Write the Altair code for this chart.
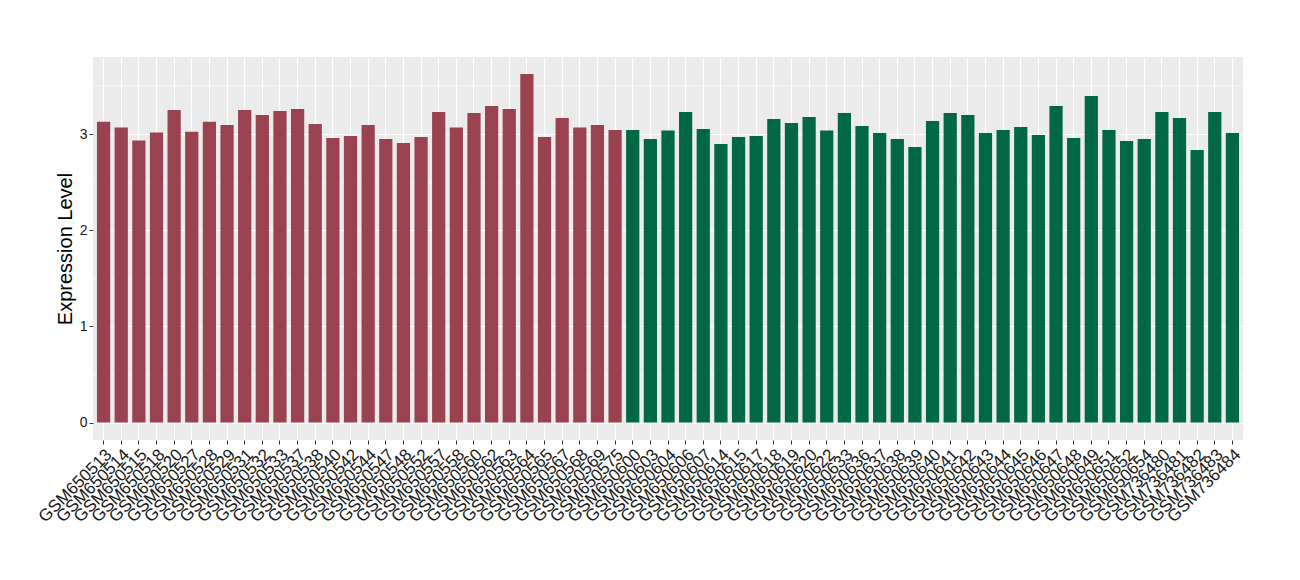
import altair as alt
import pandas as pd

samples = [
    "GSM650513", "GSM650514", "GSM650515", "GSM650518", "GSM650520", "GSM650527",
    "GSM650528", "GSM650529", "GSM650531", "GSM650532", "GSM650533", "GSM650537",
    "GSM650538", "GSM650540", "GSM650542", "GSM650544", "GSM650547", "GSM650548",
    "GSM650552", "GSM650557", "GSM650558", "GSM650560", "GSM650562", "GSM650563",
    "GSM650564", "GSM650565", "GSM650567", "GSM650568", "GSM650569", "GSM650575",
    "GSM650600", "GSM650603", "GSM650604", "GSM650606", "GSM650607", "GSM650614",
    "GSM650615", "GSM650617", "GSM650618", "GSM650619", "GSM650620", "GSM650622",
    "GSM650633", "GSM650636", "GSM650637", "GSM650638", "GSM650639", "GSM650640",
    "GSM650641", "GSM650642", "GSM650643", "GSM650644", "GSM650645", "GSM650646",
    "GSM650647", "GSM650648", "GSM650649", "GSM650651", "GSM650652", "GSM650654",
    "GSM736480", "GSM736481", "GSM736482", "GSM736483", "GSM736484",
]
values = [
    3.129, 3.067, 2.932, 3.015, 3.250, 3.025, 3.129, 3.094, 3.250, 3.198,
    3.240, 3.261, 3.105, 2.960, 2.980, 3.094, 2.949, 2.908, 2.970, 3.229,
    3.067, 3.219, 3.292, 3.261, 3.624, 2.970, 3.167, 3.067, 3.094, 3.043,
    3.043, 2.949, 3.036, 3.229, 3.053, 2.897, 2.970, 2.980, 3.157, 3.115,
    3.178, 3.036, 3.219, 3.084, 3.011, 2.949, 2.866, 3.136, 3.219, 3.198,
    3.011, 3.043, 3.074, 2.990, 3.292, 2.960, 3.396, 3.043, 2.928, 2.949,
    3.229, 3.167, 2.835, 3.229, 3.011,
]
groups = ["A"] * 30 + ["B"] * 35
group_colors = ["#9A4250", "#006845"]
minor_grid = [0.5, 1.5, 2.5, 3.5]

df = pd.DataFrame({"sample": samples, "value": values, "group": groups})
minor_df = pd.DataFrame({"v": minor_grid})

FONT = "Liberation Sans"
ydomain = [-0.181, 3.801]

yscale = alt.Scale(domain=ydomain, nice=False, zero=False)

minor = alt.Chart(minor_df).mark_rule(color="white", strokeWidth=0.6).encode(
    y=alt.Y("v:Q", scale=yscale)
)

bars = alt.Chart(df).mark_bar().encode(
    x=alt.X(
        "sample:N",
        sort=samples,
        scale=alt.Scale(paddingInner=0.25, paddingOuter=0.225),
        axis=alt.Axis(
            title=None,
            labelAngle=315,
            labelAlign="right",
            labelBaseline="top",
            labelFontSize=17,
            labelFont=FONT,
            labelColor="#1a1a1a",
            labelPadding=2,
            tickColor="#333333",
            tickSize=4,
            bandPosition=0.5,
            grid=True,
            gridColor="white",
            gridWidth=1.2,
            domain=False,
            labelOverlap=False,
        ),
    ),
    y=alt.Y(
        "value:Q",
        scale=yscale,
        axis=alt.Axis(
            title="Expression Level",
            values=[0, 1, 2, 3],
            format="d",
            titleFont=FONT,
            titleFontSize=20,
            titleFontWeight="normal",
            titleColor="black",
            titlePadding=4,
            labelFont=FONT,
            labelFontSize=14,
            labelColor="#1a1a1a",
            labelPadding=2,
            tickColor="#333333",
            tickSize=4,
            grid=True,
            gridColor="white",
            gridWidth=1.2,
            domain=False,
        ),
    ),
    color=alt.Color(
        "group:N",
        scale=alt.Scale(domain=["A", "B"], range=group_colors),
        legend=None,
    ),
)

chart = (
    alt.layer(minor, bars)
    .properties(
        width=1150,
        height=383,
        padding={"left": 26, "top": 49, "right": 0, "bottom": 0},
    )
    .configure_view(fill="#EBEBEB", strokeWidth=0)
)

chart.save("out.html", embed_options={"renderer": "svg", "actions": False})
